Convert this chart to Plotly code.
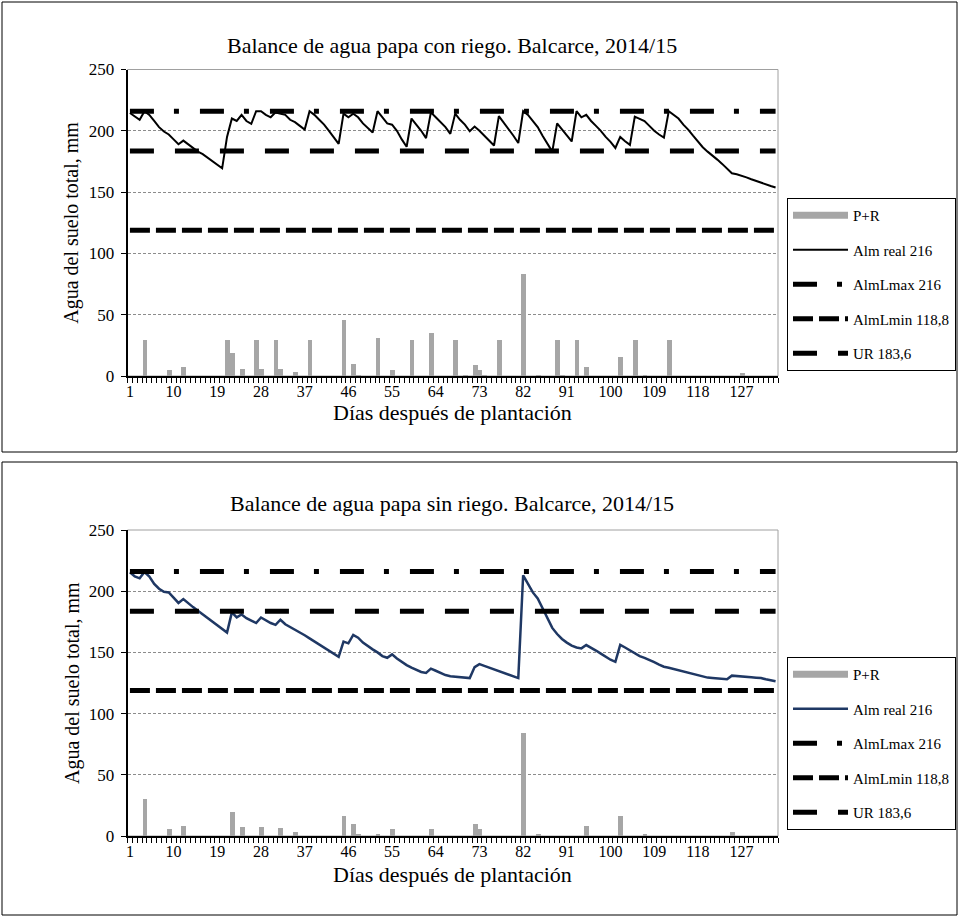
import plotly.graph_objects as go

# ---------------- data ----------------
N_DAYS = 134
days = list(range(1, N_DAYS + 1))

# Top panel: with irrigation (Alm real 216)
alm_riego = [
    214.5, 212, 209, 216, 213, 208, 203, 199.4, 197, 193,
    189, 192, 189, 186, 183, 181, 178, 175.5, 172.5, 169.4,
    195, 210, 208, 213, 208, 205.7, 216, 216, 213, 211,
    215, 214, 213, 209, 207, 204, 201, 216, 213, 209,
    205, 200, 195, 189.3, 214, 211, 214, 211, 206, 202,
    198.6, 216, 211, 206, 205, 200, 193, 187, 210, 205,
    200, 194, 215, 211, 207, 203, 197.5, 214, 209, 205,
    199.6, 203.5, 200, 196, 192, 188, 212, 207, 201, 196,
    190, 216, 213, 208, 203, 196, 190, 183, 206, 201,
    196, 191.3, 216, 211, 213, 208, 204, 200, 195, 191,
    186, 195, 191.5, 188.5, 211.5, 210, 208, 204, 200, 197,
    194.5, 216, 213, 210, 205, 201, 196, 191, 186.6, 183,
    180, 176.5, 173, 169, 165.3, 164.5, 163.5, 162, 160.5, 159,
    157.5, 156, 155, 153.8,
]

# Bottom panel: without irrigation (Alm real 216)
alm_secano = [
    215.5, 212, 210.5, 215.7, 212, 206, 202, 199.5, 199, 195,
    190.4, 193.6, 190, 187, 184, 181, 178, 175, 172, 169,
    166.2, 182.7, 178.6, 181, 178, 176, 174, 178.5, 176, 174,
    172.5, 176.7, 173, 170.8, 169, 166.5, 164, 161.5, 159, 156.5,
    154, 151.5, 149, 146.4, 158.8, 157.4, 164.3, 162, 158, 155,
    152.5, 150, 147, 145.6, 148.4, 145, 142, 139.6, 137.5, 135.5,
    134, 133.2, 136.7, 135, 133, 131.5, 130.5, 130, 129.5, 129,
    129, 138, 140.4, 139, 137.5, 136, 134.5, 133, 131.5, 130,
    129, 213, 205.5, 199, 194, 186.3, 178, 170, 165, 161,
    158, 155.5, 154, 153.3, 156, 154, 151.5, 149, 146.5, 144,
    142.3, 156.1, 154, 151.5, 149, 147, 145.5, 144, 142, 140,
    138.3, 137.5, 136.5, 135.5, 134.5, 133, 132, 131, 130, 129.4,
    129, 128.7, 128.3, 128, 131, 130.5, 130.2, 129.9, 129.6, 129.3,
    129, 128, 127.5, 126.5,
]

# P+R (rain + irrigation), mm, by day
pr_riego_days = [4, 9, 12, 21, 22, 24, 27, 28, 31, 32, 35, 38, 45, 47, 48, 52, 55, 59, 63,
                 68, 70, 72, 73, 74, 77, 82, 85, 89, 90, 93, 95, 102, 105, 107, 112, 127]
pr_riego_vals = [30, 5.7, 7.6, 30, 19, 6.3, 30, 6.3, 30, 6.3, 3.3, 30, 46, 9.8, 1.5, 31.5, 5.7, 30, 35.8,
                 30, 1.5, 9, 5, 1.5, 30, 84, 1.5, 30, 1.5, 30, 8, 16, 30, 1.5, 30, 2.7]

pr_secano_days = [4, 9, 12, 22, 24, 28, 32, 35, 45, 47, 48, 52, 55, 63, 72, 73, 82, 85, 95, 102, 107, 125]
pr_secano_vals = [30, 6, 8, 20, 7, 7, 6.5, 3, 16, 10, 1.5, 2, 6, 6, 9.5, 5.5, 84.5, 1.5, 8, 16, 1.5, 3]

ALM_MAX = 216
ALM_MIN = 118.8
UR = 183.6

x_tick_labels = list(range(1, N_DAYS + 1, 9))
y_ticks = [0, 50, 100, 150, 200, 250]

titles = ["Balance de agua papa con riego. Balcarce, 2014/15",
          "Balance de agua papa sin riego. Balcarce, 2014/15"]
x_title = "Días después de plantación"
y_title = "Agua del suelo total, mm"

legend_names = ["P+R", "Alm real 216", "AlmLmax 216", "AlmLmin 118,8", "UR 183,6"]

# ---------------- style ----------------
W, H = 958, 917
FONT = "Liberation Serif"
BAR_COLOR = "#A6A6A6"
LINE_COLORS = ["#000000", "#1F3864"]

def px_x(p):
    return p / W

def px_y(p):
    return 1 - p / H

panels = [
    dict(top=69.5, bottom=376, alm=alm_riego, prd=pr_riego_days, prv=pr_riego_vals,
         title_y=45, xt_y=412, box=(2, 452), legend_top=198, legend="legend"),
    dict(top=530, bottom=836, alm=alm_secano, prd=pr_secano_days, prv=pr_secano_vals,
         title_y=503, xt_y=874, box=(462, 915), legend_top=657, legend="legend2"),
]

X0, X1 = 127.5, 778

fig = go.Figure()
annotations = []
shapes = []
layout_axes = {}

for i, p in enumerate(panels):
    sfx = "" if i == 0 else str(i + 1)
    xa, ya = "x" + sfx, "y" + sfx
    leg = p["legend"]

    # bars
    fig.add_trace(go.Bar(x=p["prd"], y=p["prv"], marker_color=BAR_COLOR, marker_line_width=0,
                         xaxis=xa, yaxis=ya, showlegend=False, name=legend_names[0],
                         legend=leg, legendgroup=f"a{i}"))
    # legend entry for bars (wide grey glyph)
    fig.add_trace(go.Scatter(x=[None], y=[None], mode="lines", line=dict(color=BAR_COLOR, width=7),
                             name=legend_names[0], xaxis=xa, yaxis=ya, legend=leg, legendgroup=f"a{i}"))
    # real storage line
    fig.add_trace(go.Scatter(x=days, y=p["alm"], mode="lines",
                             line=dict(color=LINE_COLORS[i], width=2 if i == 0 else 2.5),
                             name=legend_names[1], xaxis=xa, yaxis=ya, legend=leg, legendgroup=f"b{i}"))
    # reference lines
    fig.add_trace(go.Scatter(x=days, y=[ALM_MAX] * len(days), mode="lines",
                             line=dict(color="black", width=5, dash="24px,20px,5px,21px"),
                             name=legend_names[2], xaxis=xa, yaxis=ya, legend=leg, legendgroup=f"c{i}"))
    fig.add_trace(go.Scatter(x=days, y=[ALM_MIN] * len(days), mode="lines",
                             line=dict(color="black", width=5, dash="20px,6px"),
                             name=legend_names[3], xaxis=xa, yaxis=ya, legend=leg, legendgroup=f"d{i}"))
    fig.add_trace(go.Scatter(x=days, y=[UR] * len(days), mode="lines",
                             line=dict(color="black", width=5, dash="24px,21px"),
                             name=legend_names[4], xaxis=xa, yaxis=ya, legend=leg, legendgroup=f"e{i}"))

    layout_axes["xaxis" + sfx] = dict(
        domain=[px_x(X0), px_x(X1)], anchor=ya, range=[0.5, N_DAYS + 0.5],
        tickmode="array", tickvals=x_tick_labels, ticktext=[str(v) for v in x_tick_labels],
        ticks="outside", ticklen=0, tickwidth=0,
        minor=dict(tick0=0.5, dtick=1, ticks="outside", ticklen=5, tickwidth=1, tickcolor="black",
                   showgrid=False),
        showline=True, linecolor="black", linewidth=1.5, showgrid=False, zeroline=False,
        tickfont=dict(family=FONT, size=16, color="black"), ticklabelstandoff=0,
        automargin=False,
    )
    layout_axes["yaxis" + sfx] = dict(
        domain=[px_y(p["bottom"]), px_y(p["top"])], anchor=xa, range=[0, 250],
        tickmode="array", tickvals=y_ticks,
        ticks="outside", ticklen=5, tickcolor="black", tickwidth=1,
        showline=True, linecolor="black", linewidth=1.5,
        showgrid=True, gridcolor="#8C8C8C", griddash="3px,2px", gridwidth=1, zeroline=False,
        tickfont=dict(family=FONT, size=17, color="black"), ticklabelstandoff=3,
        automargin=False,
    )

    # plot-area frame (grey)
    shapes.append(dict(type="rect", xref=xa + " domain", yref=ya + " domain", x0=0, x1=1, y0=0, y1=1,
                       line=dict(color="#A0A0A0", width=1), layer="below"))
    # panel border
    shapes.append(dict(type="rect", xref="paper", yref="paper",
                       x0=px_x(2), x1=px_x(957), y0=px_y(p["box"][1]), y1=px_y(p["box"][0]),
                       line=dict(color="black", width=1)))

    annotations.append(dict(text=titles[i], xref="paper", yref="paper", x=px_x(452), y=px_y(p["title_y"]),
                            showarrow=False, xanchor="center", yanchor="middle",
                            font=dict(family=FONT, size=22, color="black")))
    annotations.append(dict(text=x_title, xref="paper", yref="paper", x=px_x(452), y=px_y(p["xt_y"]),
                            showarrow=False, xanchor="center", yanchor="middle",
                            font=dict(family=FONT, size=22, color="black")))
    annotations.append(dict(text=y_title, xref="paper", yref="paper", x=px_x(72),
                            y=px_y((p["top"] + p["bottom"]) / 2), textangle=-90,
                            showarrow=False, xanchor="center", yanchor="middle",
                            font=dict(family=FONT, size=20, color="black")))

legend_style = dict(xanchor="left", yanchor="top", bgcolor="white", bordercolor="black", borderwidth=1,
                    font=dict(family=FONT, size=15, color="black"), itemwidth=55,
                    traceorder="grouped", tracegroupgap=12)

fig.update_layout(
    width=W, height=H, margin=dict(l=0, r=0, t=0, b=0, pad=0, autoexpand=False),
    font=dict(family=FONT, color="black"),
    paper_bgcolor="white", plot_bgcolor="white",
    barmode="overlay", bargap=0.0,
    showlegend=True,
    legend=dict(x=px_x(787), y=px_y(panels[0]["legend_top"]), **legend_style),
    legend2=dict(x=px_x(787), y=px_y(panels[1]["legend_top"]), **legend_style),
    annotations=annotations, shapes=shapes,
    **layout_axes,
)

fig.write_html("out.html", config={"displayModeBar": False},
               post_script="document.body.style.margin='0';document.body.style.overflow='hidden';")
